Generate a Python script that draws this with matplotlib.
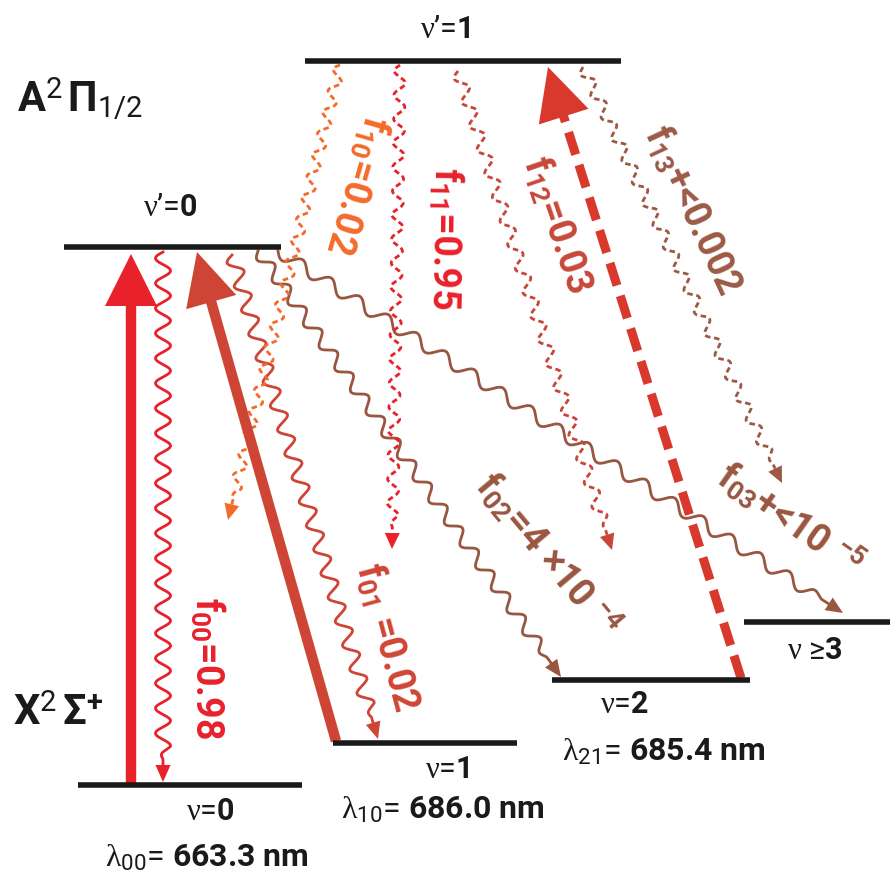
import numpy as np
import matplotlib.pyplot as plt
from matplotlib.patches import Polygon

plt.rcParams['font.family'] = ['Roboto', 'DejaVu Sans']
plt.rcParams['mathtext.fontset'] = 'custom'
plt.rcParams['mathtext.rm'] = 'Liberation Serif'
plt.rcParams['mathtext.it'] = 'Liberation Serif:italic'
plt.rcParams['mathtext.bf'] = 'Roboto:bold'
plt.rcParams['mathtext.sf'] = 'Roboto'

RED = '#E8212B'
BRICK = '#CF4535'
DRED = '#D9382C'
ORANGE = '#F36B2B'
BROWN = '#995640'

# energy levels, in picture pixels (y grows downward)
level_left = [305, 64, 78, 333, 552, 744]
level_right = [621, 281, 302, 517, 750, 890]
level_y = [62, 248, 786, 744, 681, 623]
level_labels = [r"$\mathrm{\nu}$’=$\mathbf{1}$", r"$\mathrm{\nu}$’=$\mathbf{0}$",
                r"$\mathrm{\nu}$=$\mathbf{0}$", r"$\mathrm{\nu}$=$\mathbf{1}$",
                r"$\mathrm{\nu}$=$\mathbf{2}$", r"$\mathrm{\nu}$ ≥$\mathbf{3}$"]
level_label_x = [445, 170, 210, 447, 624, 815]
level_label_y = [30, 208, 812, 770, 705, 651]

# laser (pump) arrows: tail -> tip
pump_x0 = [131, 336, 741]
pump_y0 = [786, 742, 679]
pump_x1 = [131, 197, 548]
pump_y1 = [255, 253, 68]
pump_colors = [RED, BRICK, DRED]
pump_dashed = [False, False, True]

# spontaneous decays (wavy arrows)
emit_x0 = [163, 232, 258, 278, 340, 400, 458, 583]
emit_y0 = [253, 256, 252, 252, 66, 66, 72, 68]
emit_x1 = [163, 378, 561, 843, 228, 392, 612, 782]
emit_y1 = [783, 740, 678, 614, 521, 550, 551, 484]
emit_colors = [RED, BRICK, BROWN, BROWN, ORANGE, RED, '#C8473A', '#9C5A45']
emit_dotted = [False, False, False, False, True, True, True, True]
emit_amp = [7.5, 7, 6, 6, 5.5, 5.5, 6, 5.5]
emit_wave = [25, 25, 27, 34, 22, 24, 25, 24]

# branching ratio labels
f_texts = [r'$\mathbf{f}_{\mathbf{00}}$=0.98',
           r'$\mathbf{f}_{\mathbf{01}}$ =0.02',
           r'$\mathbf{f}_{\mathbf{02}}$=4 ×10 ${}^{\mathbf{-4}}$',
           r'$\mathbf{f}_{\mathbf{03}}$+<10 ${}^{\mathbf{-5}}$',
           r'$\mathbf{f}_{\mathbf{10}}$=0.02',
           r'$\mathbf{f}_{\mathbf{11}}$=0.95',
           r'$\mathbf{f}_{\mathbf{12}}$=0.03',
           r'$\mathbf{f}_{\mathbf{13}}$+<0.002']
f_x = [207, 387, 548, 790, 357, 445, 557, 693]
f_y = [668, 637, 555, 520, 185, 238, 225, 210]
f_rot = [-90, -75, -50, -35, -106, -91, -71, -65]

wavelength_texts = [r'$\mathrm{\lambda}_{\mathsf{00}}$= $\mathbf{663.3\ nm}$',
                    r'$\mathrm{\lambda}_{\mathsf{10}}$= $\mathbf{686.0\ nm}$',
                    r'$\mathrm{\lambda}_{\mathsf{21}}$= $\mathbf{685.4\ nm}$']
wavelength_x = [207, 443, 664]
wavelength_y = [858, 810, 752]


def head(ax, x, y, ux, uy, length, width, color, z=3):
    nx, ny = -uy, ux
    bx, by = x - ux * length, y - uy * length
    pts = [(x, y), (bx + nx * width / 2, by + ny * width / 2),
           (bx - nx * width / 2, by - ny * width / 2)]
    ax.add_patch(Polygon(pts, closed=True, color=color, lw=0, zorder=z))


def wavy(ax, x0, y0, x1, y1, amp, wl, color, dotted):
    L = np.hypot(x1 - x0, y1 - y0)
    ux, uy = (x1 - x0) / L, (y1 - y0) / L
    hl = 16 if dotted else 17
    s = np.linspace(0, L - hl, 900)
    taper = np.clip((L - hl - 6 - s) / (wl * 0.5), 0, 1)
    off = amp * np.sin(2 * np.pi * s / wl) * taper
    xs = x0 + ux * s - uy * off
    ys = y0 + uy * s + ux * off
    ls = (0, (2.0, 1.3)) if dotted else '-'
    ax.plot(xs, ys, color=color, lw=2.0, ls=ls, zorder=2)
    head(ax, x1, y1, ux, uy, hl, 15, color)


fig = plt.figure(figsize=(8.9, 8.79), dpi=100)
ax = fig.add_axes([0, 0, 1, 1])
ax.set_xlim(0, 890)
ax.set_ylim(879, 0)
ax.axis('off')

for i in range(len(emit_x0)):
    wavy(ax, emit_x0[i], emit_y0[i], emit_x1[i], emit_y1[i],
         emit_amp[i], emit_wave[i], emit_colors[i], emit_dotted[i])

for i in range(len(pump_x0)):
    L = np.hypot(pump_x1[i] - pump_x0[i], pump_y1[i] - pump_y0[i])
    ux = (pump_x1[i] - pump_x0[i]) / L
    uy = (pump_y1[i] - pump_y0[i]) / L
    hl = 52
    bx, by = pump_x1[i] - ux * (hl - 2), pump_y1[i] - uy * (hl - 2)
    if pump_dashed[i]:
        ax.plot([pump_x0[i], bx], [pump_y0[i], by], color=pump_colors[i],
                lw=6.5, ls=(0, (2.6, 1.2)), solid_capstyle='butt',
                dash_capstyle='butt', zorder=3)
    else:
        ax.plot([pump_x0[i], bx], [pump_y0[i], by], color=pump_colors[i],
                lw=7.5, solid_capstyle='butt', zorder=3)
    head(ax, pump_x1[i], pump_y1[i], ux, uy, hl, 52, pump_colors[i], z=4)

for i in range(len(level_y)):
    ax.plot([level_left[i], level_right[i]], [level_y[i], level_y[i]],
            color='#1a1a1a', lw=4, solid_capstyle='butt', zorder=5)
    ax.text(level_label_x[i], level_label_y[i], level_labels[i], fontsize=22,
            ha='center', va='center', color='#1a1a1a')

for i in range(len(f_texts)):
    ax.text(f_x[i], f_y[i], f_texts[i], fontsize=27, fontweight='bold',
            color=emit_colors[i], rotation=f_rot[i], rotation_mode='anchor',
            ha='center', va='center', zorder=6)

for i in range(len(wavelength_texts)):
    ax.text(wavelength_x[i], wavelength_y[i], wavelength_texts[i], fontsize=23,
            ha='center', va='center', color='#1a1a1a')

ax.text(17, 98, r'$\mathbf{A}^{\mathsf{2}}\,\mathbf{\Pi}_{\mathsf{1/2}}$',
        fontsize=30, ha='left', va='center', color='#1a1a1a')
ax.text(13, 714, r'$\mathbf{X}^{\mathsf{2}}\,\mathbf{\Sigma}^{\mathbf{+}}$',
        fontsize=30, ha='left', va='center', color='#1a1a1a')

fig.savefig('out.png', dpi=100)
